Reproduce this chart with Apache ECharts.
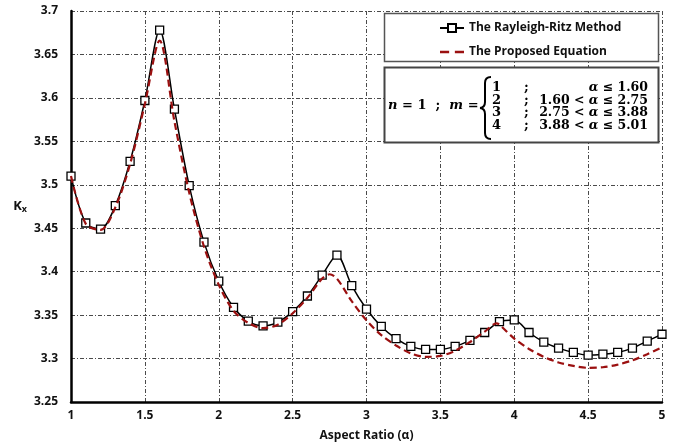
<!DOCTYPE html>
<html>
<head>
<meta charset="utf-8">
<script src="https://cdn.jsdelivr.net/npm/echarts@6/dist/echarts.min.js"></script>
<style>
  html, body { margin: 0; padding: 0; background: #fff; }
  #chart { width: 674px; height: 448px; }
</style>
</head>
<body>
<div id="chart"></div>
<script>
// Aspect ratios sampled by the Rayleigh-Ritz solution
const alphaRR = [1.0, 1.1, 1.2, 1.3, 1.4, 1.5, 1.6, 1.7, 1.8, 1.9,
                 2.0, 2.1, 2.2, 2.3, 2.4, 2.5, 2.6, 2.7, 2.8, 2.9,
                 3.0, 3.1, 3.2, 3.3, 3.4, 3.5, 3.6, 3.7, 3.8, 3.9,
                 4.0, 4.1, 4.2, 4.3, 4.4, 4.5, 4.6, 4.7, 4.8, 4.9, 5.0];
const kxRayleighRitz = [3.510, 3.456, 3.449, 3.476, 3.527, 3.597, 3.678, 3.587, 3.499, 3.434,
                        3.389, 3.359, 3.343, 3.3375, 3.342, 3.354, 3.372, 3.396, 3.419, 3.384,
                        3.357, 3.337, 3.323, 3.314, 3.3105, 3.3105, 3.314, 3.321, 3.330, 3.3425,
                        3.3445, 3.330, 3.319, 3.312, 3.307, 3.304, 3.305, 3.307, 3.312, 3.320, 3.328];

// Proposed closed-form equation (mode switches at 1.60, 2.75, 3.88)
const alphaEq = [1.0, 1.1, 1.2, 1.3, 1.4, 1.5, 1.6, 1.7, 1.8, 1.9,
                 2.0, 2.1, 2.2, 2.3, 2.4, 2.5, 2.6, 2.7, 2.75, 2.8, 2.9,
                 3.0, 3.1, 3.2, 3.3, 3.4, 3.5, 3.6, 3.7, 3.8, 3.88, 3.9,
                 4.0, 4.1, 4.2, 4.3, 4.4, 4.5, 4.6, 4.7, 4.8, 4.9, 5.0];
const kxProposed = [3.510, 3.455, 3.448, 3.474, 3.524, 3.593, 3.666, 3.573, 3.491, 3.429,
                    3.385, 3.355, 3.341, 3.335, 3.339, 3.352, 3.370, 3.392, 3.397, 3.392, 3.366,
                    3.344, 3.327, 3.315, 3.306, 3.302, 3.303, 3.309, 3.319, 3.331, 3.3405, 3.339,
                    3.323, 3.311, 3.302, 3.2955, 3.2916, 3.2893, 3.290, 3.293, 3.298, 3.305, 3.313];

const xTicks = { min: 1, max: 5, step: 0.5 };
const yTicks = { min: 3.25, max: 3.7, step: 0.05 };

const seriesNames = ['The Rayleigh-Ritz Method', 'The Proposed Equation'];
const modeRows = [
  ['1', '{i|α} ≤ 1.60'],
  ['2', '1.60 < {i|α} ≤ 2.75'],
  ['3', '2.75 < {i|α} ≤ 3.88'],
  ['4', '3.88 < {i|α} ≤ 5.01']
];

const pairs = (xs, ys) => xs.map((x, i) => [x, ys[i]]);

const sans = '"Open Sans", "DejaVu Sans", sans-serif';
const serif = '"DejaVu Serif", "Liberation Serif", serif';
const gridDash = { color: '#4a4a4a', width: 1, type: [4, 2, 1, 2] };
const redDash = '#9b1010';

const chart = echarts.init(document.getElementById('chart'), null, { renderer: 'canvas' });

const rowTop = [88, 100.5, 113, 125.5];
const braceStyle = { stroke: '#000', lineWidth: 2, fill: 'none' };
const graphics = [
  { type: 'rect', shape: { x: 384.5, y: 13.5, width: 274, height: 48 },
    style: { fill: '#fff', stroke: '#555', lineWidth: 1.5 }, z: 10 },
  { type: 'rect', shape: { x: 384.5, y: 67.5, width: 274, height: 75 },
    style: { fill: '#fff', stroke: '#444', lineWidth: 2 }, z: 10 },
  { type: 'text', x: 388, y: 106, z: 11,
    style: { text: '{i|n} = 1  ;  {i|m} =', fill: '#000', verticalAlign: 'middle',
             font: 'bold 13px ' + serif,
             rich: { i: { fontStyle: 'italic', fontWeight: 'bold', fontSize: 13, fontFamily: serif } } } },
  // curly brace of the piecewise definition
  { type: 'bezierCurve', z: 11, shape: { x1: 491, y1: 77, x2: 485, y2: 83, cpx1: 485, cpy1: 77 }, style: braceStyle },
  { type: 'line', z: 11, shape: { x1: 485, y1: 83, x2: 485, y2: 102 }, style: braceStyle },
  { type: 'bezierCurve', z: 11, shape: { x1: 485, y1: 102, x2: 480, y2: 108, cpx1: 485, cpy1: 107.5 }, style: braceStyle },
  { type: 'bezierCurve', z: 11, shape: { x1: 480, y1: 108, x2: 485, y2: 114, cpx1: 485, cpy1: 108.5 }, style: braceStyle },
  { type: 'line', z: 11, shape: { x1: 485, y1: 114, x2: 485, y2: 133 }, style: braceStyle },
  { type: 'bezierCurve', z: 11, shape: { x1: 485, y1: 133, x2: 491, y2: 139, cpx1: 485, cpy1: 139 }, style: braceStyle }
];
modeRows.forEach((row, k) => {
  graphics.push({ type: 'text', x: 492, y: rowTop[k], z: 11,
    style: { text: row[0], fill: '#000', font: 'bold 13px ' + serif, verticalAlign: 'middle' } });
  graphics.push({ type: 'text', x: 524, y: rowTop[k], z: 11,
    style: { text: ';', fill: '#000', font: 'bold 13px ' + serif, verticalAlign: 'middle' } });
  graphics.push({ type: 'text', x: 648, y: rowTop[k], z: 11,
    style: { text: row[1], fill: '#000', font: 'bold 12.5px ' + serif, align: 'right', verticalAlign: 'middle',
             rich: { i: { fontStyle: 'italic', fontWeight: 'bold', fontSize: 12.5, fontFamily: serif } } } });
});

chart.setOption({
  backgroundColor: '#fff',
  animation: false,
  grid: { left: 71, right: 12, top: 11, bottom: 46, containLabel: false },
  legend: {
    data: [
      { name: seriesNames[0] },
      { name: seriesNames[1],
        icon: 'path://M0,0 L8,0 L8,2.4 L0,2.4 Z M13,0 L21,0 L21,2.4 L13,2.4 Z',
        itemStyle: { color: redDash } }
    ],
    orient: 'vertical',
    left: 434, top: 17,
    itemWidth: 24, itemHeight: 10, itemGap: 12,
    textStyle: { fontFamily: sans, fontWeight: 'bold', fontSize: 12, color: '#111' },
    z: 12
  },
  xAxis: {
    type: 'value', min: xTicks.min, max: xTicks.max, interval: xTicks.step,
    name: 'Aspect Ratio (α)', nameLocation: 'middle', nameGap: 28,
    nameTextStyle: { fontFamily: sans, fontWeight: 'bold', fontSize: 12, color: '#111' },
    axisLine: { lineStyle: { color: '#000', width: 2.5 } },
    axisTick: { show: false },
    axisLabel: { fontFamily: sans, fontWeight: 'bold', fontSize: 12, color: '#111', margin: 8 },
    splitLine: { show: true, lineStyle: gridDash }
  },
  yAxis: {
    type: 'value', min: yTicks.min, max: yTicks.max, interval: yTicks.step,
    name: '{k|K}{s|x}', nameLocation: 'middle', nameRotate: 0, nameGap: 44,
    nameTextStyle: { rich: {
      k: { fontFamily: sans, fontWeight: 'bold', fontSize: 13, color: '#111' },
      s: { fontFamily: sans, fontWeight: 'bold', fontSize: 9, color: '#111', verticalAlign: 'bottom', padding: [6, 0, 0, 0] }
    } },
    axisLine: { show: true, lineStyle: { color: '#000', width: 2.5 } },
    axisTick: { show: false },
    axisLabel: { fontFamily: sans, fontWeight: 'bold', fontSize: 12, color: '#111', margin: 13 },
    splitLine: { show: true, lineStyle: gridDash }
  },
  series: [
    {
      name: seriesNames[0], type: 'line', data: pairs(alphaRR, kxRayleighRitz),
      smooth: 0.3, symbol: 'rect', symbolSize: 8, showSymbol: true,
      lineStyle: { color: '#000', width: 1.5 },
      itemStyle: { color: '#fff', borderColor: '#000', borderWidth: 1.3 },
      z: 3
    },
    {
      name: seriesNames[1], type: 'line', data: pairs(alphaEq, kxProposed),
      smooth: 0.3, showSymbol: false, symbol: 'none',
      lineStyle: { color: redDash, width: 2.2, type: [7, 4] },
      itemStyle: { color: redDash },
      z: 4
    }
  ],
  graphic: graphics
});
</script>
</body>
</html>
